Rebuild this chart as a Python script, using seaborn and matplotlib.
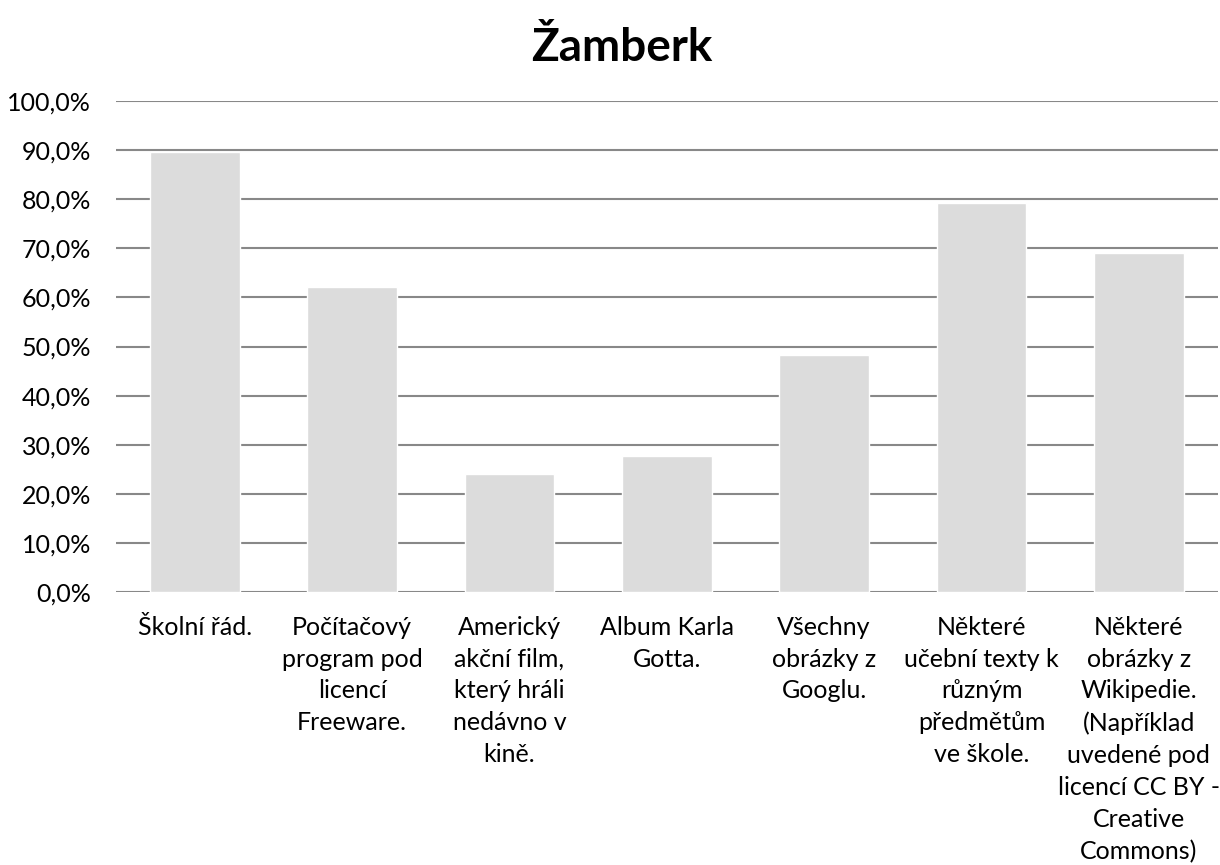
import matplotlib
matplotlib.use("Agg")
import matplotlib.pyplot as plt
import seaborn as sns
import pandas as pd
from matplotlib.ticker import FuncFormatter, MultipleLocator

categories = [
    "Školní řád.",
    "Počítačový\nprogram pod\nlicencí\nFreeware.",
    "Americký\nakční film,\nkterý hráli\nnedávno v\nkině.",
    "Album Karla\nGotta.",
    "Všechny\nobrázky z\nGooglu.",
    "Některé\nučební texty k\nrůzným\npředmětům\nve škole.",
    "Některé\nobrázky z\nWikipedie.\n(Například\nuvedené pod\nlicencí CC BY -\nCreative\nCommons)",
]
values = [89.7, 62.1, 24.1, 27.6, 48.3, 79.3, 69.0]
title = "Žamberk"

sns.set_theme(style="white")
plt.rcParams["font.family"] = ["Lato", "DejaVu Sans"]
plt.rcParams["text.color"] = "black"

df = pd.DataFrame({"cat": categories, "val": values})

fig = plt.figure(figsize=(12.2, 8.65), dpi=100)
ax = fig.add_axes([0.0951, 0.3156, 0.9029, 0.5676])
sns.barplot(data=df, x="cat", y="val", color="#dcdcdc", saturation=1,
            width=0.57, ax=ax, zorder=3)

ax.set_ylim(0, 100)
ax.yaxis.set_major_locator(MultipleLocator(10))
ax.yaxis.set_major_formatter(FuncFormatter(lambda v, p: f"{v:.1f}%".replace(".", ",")))
ax.grid(axis="y", color="#888888", linewidth=1.5, zorder=0)
ax.set_axisbelow(True)
for s in ax.spines.values():
    s.set_visible(False)
ax.set_xlabel("")
ax.set_ylabel("")
ax.tick_params(axis="both", length=0, labelsize=18, labelcolor="black")
ax.tick_params(axis="x", pad=17)
ax.tick_params(axis="y", pad=18)
for lbl in ax.get_xticklabels():
    lbl.set_linespacing(1.47)
    lbl.set_verticalalignment("top")
    lbl.set_horizontalalignment("center")

fig.text(0.51, 0.945, title, ha="center", va="center", fontsize=33,
         fontweight="bold", color="black")

fig.savefig("out.png", dpi=100, facecolor="white")
